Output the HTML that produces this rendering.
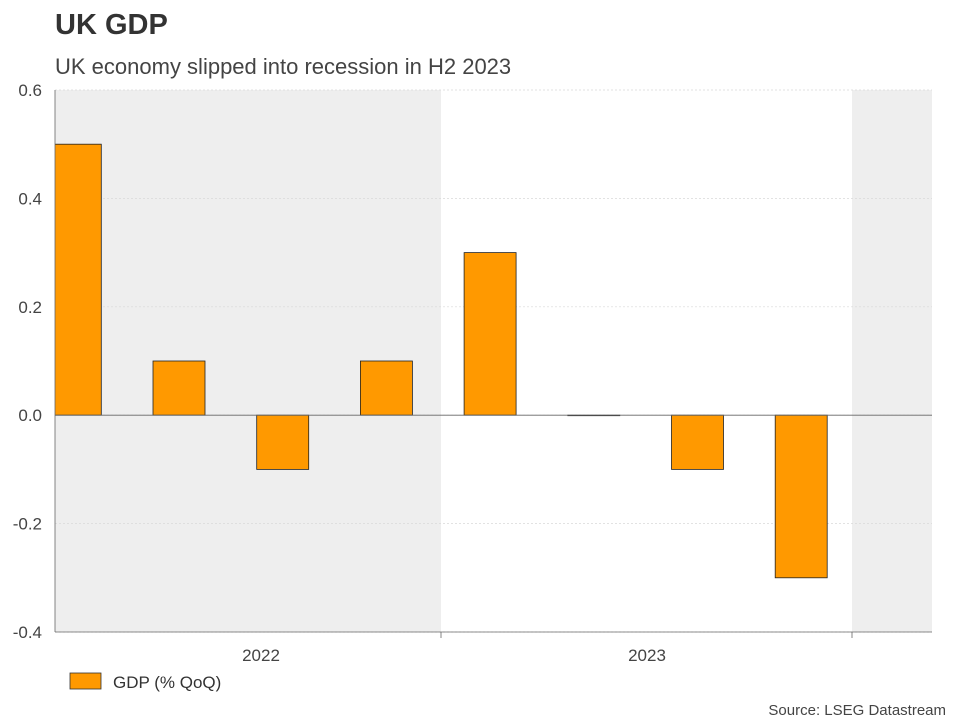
<!DOCTYPE html>
<html><head><meta charset="utf-8"><style>
body{margin:0;background:#fff;font-family:"Liberation Sans",Arial,sans-serif;}
</style></head><body>
<svg width="960" height="720" xmlns="http://www.w3.org/2000/svg">
<defs><clipPath id="pc"><rect x="55" y="90" width="877" height="542"/></clipPath></defs>
<text x="55" y="34" font-size="29" font-weight="bold" fill="#333">UK GDP</text>
<text x="55" y="74" font-size="22" fill="#444">UK economy slipped into recession in H2 2023</text>
<g id="plot"></g>
<rect x="70" y="673" width="31" height="16" fill="#ff9900" stroke="#333" stroke-width="0.8"/>
<text x="113" y="688" font-size="17" fill="#333">GDP (% QoQ)</text>
<text x="946" y="715" font-size="15" fill="#444" text-anchor="end">Source: LSEG Datastream</text>
</svg>
<script>
const categories=["2022Q1","2022Q2","2022Q3","2022Q4","2023Q1","2023Q2","2023Q3","2023Q4"];
const gdpValues=[0.5,0.1,-0.1,0.1,0.3,0.0,-0.1,-0.3];
const yTicks=[0.6,0.4,0.2,0.0,-0.2,-0.4];
const yearLabels=["2022","2023"];
const NS="http://www.w3.org/2000/svg";
const L=55,R=932,T=90,B=632,yMax=0.6,yMin=-0.4;
const y=v=>T+(yMax-v)/(yMax-yMin)*(B-T);
const step=103.7,bw=52;
const x=i=>49.3+i*step;
const g=document.getElementById('plot');
function mk(t,a,p){const e=document.createElementNS(NS,t);for(const k in a)e.setAttribute(k,a[k]);(p||g).appendChild(e);return e;}
const bandEdges=[[L,441],[852,R]];
bandEdges.forEach(b=>{const r=mk('rect',{x:b[0],y:T,width:b[1]-b[0],height:B-T,fill:'#eeeeee'});

});
yTicks.forEach(v=>{
const l=mk('line',{x1:L,x2:R,y1:y(v),y2:y(v),stroke:'#d8d8d8','stroke-width':0.7,'stroke-dasharray':'2,2'});


const t=mk('text',{x:L-13,y:y(v)+6,'font-size':17,fill:'#444','text-anchor':'end'});
t.textContent=v.toFixed(1);


});
const bars=mk('g',{'clip-path':'url(#pc)'});
gdpValues.forEach((v,i)=>{
const top=Math.min(y(v),y(0)),h=Math.abs(y(v)-y(0));
const r=mk('rect',{x:x(i),y:top,width:bw,height:Math.max(h,0.5),fill:'#ff9900',stroke:'#222','stroke-width':0.8},bars);


});
const z=mk('line',{x1:L,x2:R,y1:y(0),y2:y(0),stroke:'#666','stroke-width':0.8});


const ax=mk('line',{x1:L,x2:R,y1:B,y2:B,stroke:'#666','stroke-width':0.8});


const ay=mk('line',{x1:L,x2:L,y1:T,y2:B,stroke:'#666','stroke-width':0.8});


[441,852].forEach(px=>{const tk=mk('line',{x1:px,x2:px,y1:B,y2:B+6,stroke:'#666','stroke-width':0.8});

});
const labelX=[261,647];
yearLabels.forEach((s,i)=>{const t=mk('text',{x:labelX[i],y:661,'font-size':17,fill:'#444','text-anchor':'middle'});
t.textContent=s;

});
</script>
</body></html>
